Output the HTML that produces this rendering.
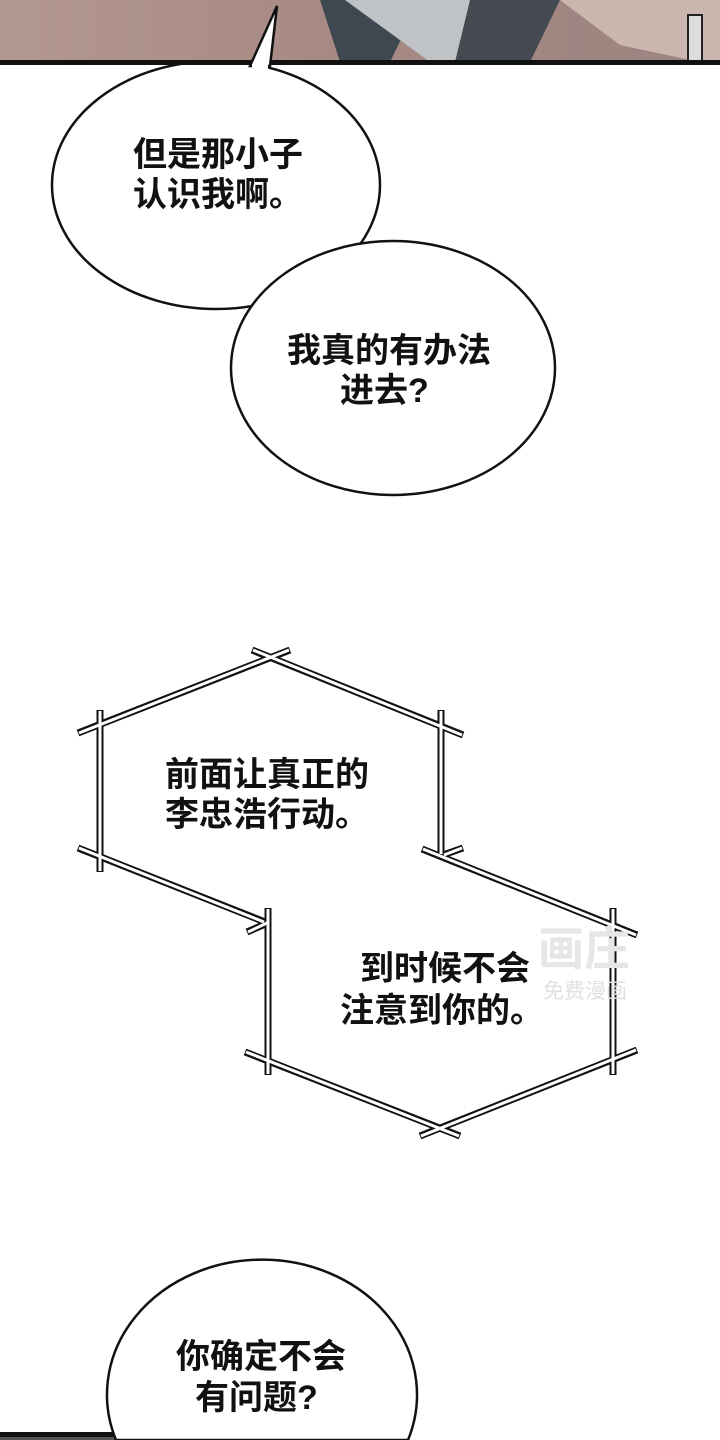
<!DOCTYPE html>
<html><head><meta charset="utf-8"><style>
html,body{margin:0;width:720px;height:1440px;overflow:hidden;background:#fff}
svg{display:block;overflow:hidden}
text{font-family:"Liberation Sans","Noto Sans CJK SC",sans-serif;font-weight:bold;font-size:34px;fill:#111}
</style></head><body>
<svg width="720" height="1440" viewBox="0 0 720 1440">
<defs>
<linearGradient id="sk" x1="0" x2="1"><stop offset="0" stop-color="#b39791"/><stop offset="0.45" stop-color="#a88a84"/><stop offset="1" stop-color="#9c8480"/></linearGradient>
</defs>
<ellipse cx="216" cy="185" rx="164" ry="124" fill="#fff" stroke="#111" stroke-width="2.5"/>
<rect x="0" y="0" width="720" height="62" fill="url(#sk)"/>
<polygon points="320,0 340,62 390,62 420,0" fill="#3f4750"/>
<polygon points="345,0 430,62 460,62 500,0" fill="#bfc3c6"/>
<polygon points="470,0 455,62 530,62 560,0" fill="#444a50"/>
<polygon points="560,0 620,45 700,62 720,62 720,0" fill="#ccb6b0"/>
<rect x="688" y="15" width="14" height="47" fill="#ddd" stroke="#222" stroke-width="2"/>
<rect x="0" y="60" width="720" height="5" fill="#111"/>
<path d="M250,66 L277,6 L270,66 Z" fill="#fff" stroke="#111" stroke-width="2.5"/>
<rect x="252" y="64" width="16" height="6" fill="#fff"/>
<ellipse cx="393" cy="368" rx="162" ry="127" fill="#fff" stroke="#111" stroke-width="2.5"/>
<text x="133" y="166">但是那小子</text>
<text x="133" y="206">认识我啊。</text>
<text x="287" y="362">我真的有办法</text>
<text x="340" y="402">进去?</text>
<g stroke-linecap="butt">
<g stroke="#111" stroke-width="7">
<line x1="78" y1="733" x2="290" y2="650"/><line x1="252" y1="650" x2="463" y2="735"/>
<line x1="100" y1="710" x2="100" y2="872"/><line x1="441" y1="710" x2="441" y2="855"/>
<line x1="78" y1="848" x2="265" y2="922"/><line x1="247" y1="932" x2="270" y2="922"/>
<line x1="422" y1="849" x2="637" y2="935"/><line x1="443" y1="855" x2="463" y2="848"/>
<line x1="268" y1="908" x2="268" y2="1075"/><line x1="613" y1="908" x2="613" y2="1075"/>
<line x1="245" y1="1052" x2="460" y2="1136"/><line x1="420" y1="1136" x2="637" y2="1050"/>
</g>
<g stroke="#fff" stroke-width="3">
<line x1="79" y1="733" x2="289" y2="650"/><line x1="253" y1="650" x2="462" y2="735"/>
<line x1="100" y1="711" x2="100" y2="871"/><line x1="441" y1="711" x2="441" y2="854"/>
<line x1="79" y1="848" x2="264" y2="922"/><line x1="248" y1="932" x2="269" y2="922"/>
<line x1="423" y1="849" x2="636" y2="935"/><line x1="444" y1="855" x2="462" y2="848"/>
<line x1="268" y1="909" x2="268" y2="1074"/><line x1="613" y1="909" x2="613" y2="1074"/>
<line x1="246" y1="1052" x2="459" y2="1136"/><line x1="421" y1="1136" x2="636" y2="1050"/>
</g>
</g>
<text x="165" y="786">前面让真正的</text>
<text x="165" y="826">李忠浩行动。</text>
<text x="360" y="980">到时候不会</text>
<text x="340" y="1022">注意到你的。</text>
<text x="538" y="965" style="font-size:46px;fill:#e6e6e6">画庄</text>
<text x="543" y="998" style="font-size:21px;fill:#e0e0e0;font-weight:normal">免费漫画</text>
<rect x="0" y="1432" width="380" height="8" fill="#111"/>
<rect x="0" y="1437" width="380" height="3" fill="#555"/>
<path d="M116,1440 A155,135 0 1 1 408,1440 Z" fill="#fff" stroke="#111" stroke-width="2.5"/>
<text x="176" y="1368">你确定不会</text>
<text x="195" y="1409">有问题?</text>
</svg>
</body></html>
